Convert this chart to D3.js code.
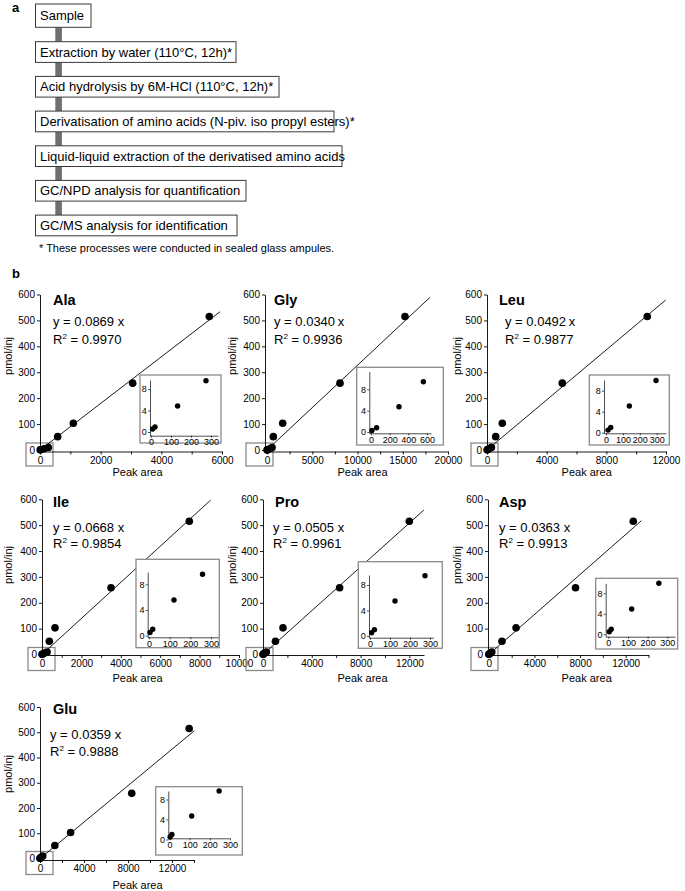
<!DOCTYPE html>
<html><head><meta charset="utf-8">
<script src="https://cdn.jsdelivr.net/npm/d3@7"></script>
<style>
body{margin:0;background:#fff}
svg{display:block}
text{font-family:"Liberation Sans",Arial,Helvetica,sans-serif;fill:#000}
</style>
</head><body>
<svg id="c" width="685" height="891"></svg>
<script>
// ---------------- DATA ----------------
const flowSteps = [
  "Sample",
  "Extraction by water (110°C, 12h)*",
  "Acid hydrolysis by 6M-HCl (110°C, 12h)*",
  "Derivatisation of amino acids (N-piv. iso propyl esters)*",
  "Liquid-liquid extraction of the derivatised amino acids",
  "GC/NPD analysis for quantification",
  "GC/MS analysis for identification"
];
const footnote = "* These processes were conducted in sealed glass ampules.";
const aminoAcids = ["Ala","Gly","Leu","Ile","Pro","Asp","Glu"];
const slopeText = ["0.0869","0.0340","0.0492","0.0668","0.0505","0.0363","0.0359"];
const r2Text = ["0.9970","0.9936","0.9877","0.9854","0.9961","0.9913","0.9888"];
// high standards (pmol/inj) and their peak areas
const pmolHigh = [51.5, 103, 258, 515];
const peakAreaHigh = [
  [583, 1099, 3055, 5582],
  [696, 1735, 8066, 15249],
  [583, 1025, 5047, 10744],
  [371, 660, 3503, 7477],
  [1021, 1639, 6282, 11997],
  [1151, 2385, 7600, 12664],
  [1348, 2783, 8340, 13562]
];
// low standards (inset)
const peakAreaLow = [
  [8, 20, 133, 275],
  [10, 60, 300, 561],
  [12, 28, 138, 296],
  [5, 18, 121, 259],
  [8, 22, 125, 275],
  [5, 15, 119, 257],
  [3, 12, 110, 246]
];
const pmolLow = [
  [0.55, 0.95, 4.84, 9.54],
  [0.3, 0.8, 4.75, 9.45],
  [0.5, 1.0, 5.09, 9.94],
  [0.5, 1.0, 5.56, 9.56],
  [0.5, 1.0, 5.49, 9.46],
  [0.5, 1.0, 4.94, 9.95],
  [0.5, 1.0, 4.7, 9.7]
];
// end point of the drawn fit line (peak area, pmol)
const fitLineEnd = [[5935,533.6],[18011,589],[11977,578.7],[8563,597],[13189,558.6],[13371,517],[14030,506]];
const yTicks = [0,100,200,300,400,500,600];
const xTickLabels = [
  [0,2000,4000,6000],
  [0,5000,10000,15000,20000],
  [0,4000,8000,12000],
  [0,2000,4000,6000,8000,10000],
  [0,4000,8000,12000],
  [0,4000,8000,12000],
  [0,4000,8000,12000]
];
const xMinorStep = [1000,2500,2000,1000,2000,2000,2000];
const xAxisMax = [6000,20000,12000,10000,13200,14000,14000];
const insetXTicks = [[0,100,200,300],[0,200,400,600],[0,100,200,300],[0,100,200,300],[0,100,200,300],[0,100,200,300],[0,100,200,300]];
const insetYTicks = [0,4,8];

// ---------------- LAYOUT ----------------
const svg = d3.select("#c");
const FONT = '"Liberation Sans",Arial,Helvetica,sans-serif';

// Part a: flow chart
const flowTops = [4, 41.7, 76.4, 111.1, 145.8, 180.4, 215.1];
const flowH = [23.3, 20.7, 20.7, 20.7, 20.7, 20.7, 20.7];
const flowRight = [91, 236, 279, 334, 342, 246, 237];
svg.append("text").attr("x", 12).attr("y", 11.5).attr("font-size", 13).attr("font-weight", "bold").text("a");
flowSteps.forEach((s, i) => {
  if (i < flowSteps.length - 1) {
    svg.append("rect").attr("x", 55.3).attr("y", flowTops[i] + flowH[i])
      .attr("width", 6.6).attr("height", flowTops[i+1] - flowTops[i] - flowH[i])
      .attr("fill", "#6f6f6f");
  }
});
flowSteps.forEach((s, i) => {
  svg.append("rect").attr("x", 35.5).attr("y", flowTops[i]).attr("width", flowRight[i] - 35.5)
    .attr("height", flowH[i]).attr("fill", "#fff").attr("stroke", "#3a3a3a").attr("stroke-width", 1);
  svg.append("text").attr("x", 40).attr("y", flowTops[i] + flowH[i] / 2 + 4.6)
    .attr("font-size", 13).text(s);
});
svg.append("text").attr("x", 39).attr("y", 252).attr("font-size", 11).text(footnote);

// Part b
svg.append("text").attr("x", 12).attr("y", 278).attr("font-size", 13).attr("font-weight", "bold").text("b");

const rows = [
  {y0:450, y600:294.5, axisY:451.5, titleY:305, eqY:326, r2Y:343.5, xlabY:476, ylabY:356},
  {y0:654.5, y600:499.3, axisY:655, titleY:506.5, eqY:531.5, r2Y:548, xlabY:682, ylabY:565},
  {y0:858.5, y600:707, axisY:860, titleY:714, eqY:738.5, r2Y:755.5, xlabY:889, ylabY:774}
];
const colXlab = [137.5, 362.5, 586.7];
const colYlab = [8, 232, 457];
const panels = [
  {row:0,col:0, yAxisX:40,  px0:40,  pxRef:222,   titleX:53,  eqX:53,  boxL:-14, sp:" "},
  {row:0,col:1, yAxisX:265, px0:267, pxRef:448,   titleX:274, eqX:274, boxL:-19, sp:"\u2009"},
  {row:0,col:2, yAxisX:487, px0:487, pxRef:666,   titleX:499, eqX:505, boxL:-16, sp:"\u2009"},
  {row:1,col:0, yAxisX:42,  px0:42,  pxRef:239,   titleX:53,  eqX:53,  boxL:-14, sp:" "},
  {row:1,col:1, yAxisX:263, px0:263, pxRef:424,   titleX:275, eqX:273, boxL:-17, sp:" "},
  {row:1,col:2, yAxisX:488, px0:489, pxRef:648.5, titleX:499, eqX:499, boxL:-17, sp:" "},
  {row:2,col:0, yAxisX:40,  px0:40,  pxRef:194,   titleX:53,  eqX:50,  boxL:-14, sp:" "}
];
const insets = [
  {box:[140,375,221,443], ax:150, ay:435.7, xr:218, yt:380, x0:151, xRefPx:211, y0:432, y8:389},
  {box:[356.7,367.3,443.3,445], ax:369.3, ay:433.3, xr:431, yt:371.7, x0:371, xRefPx:427, y0:432, y8:389.4},
  {box:[589.3,375,669.3,445], ax:604, ay:433.3, xr:665.7, yt:380, x0:606, xRefPx:656.7, y0:432.7, y8:390.7},
  {box:[136,559.3,219.3,647.7], ax:147.7, ay:637.3, xr:218.3, yt:572, x0:149, xRefPx:211, y0:635.7, y8:584.3},
  {box:[358.3,561.7,442.3,648.3], ax:369, ay:637.7, xr:433.3, yt:575, x0:370, xRefPx:430, y0:636, y8:585},
  {box:[595.7,578.3,677.7,649], ax:605.7, ay:636.7, xr:675, yt:583.3, x0:608.3, xRefPx:667.3, y0:634.3, y8:593.3},
  {box:[155.7,786.7,242.3,855], ax:168.3, ay:838.3, xr:229.3, yt:791, x0:169.5, xRefPx:230, y0:839.5, y8:799.5}
];

function styleAxis(g, fs) {
  g.selectAll("path.domain").attr("stroke", "#000").attr("stroke-width", 0.9);
  g.selectAll(".tick line").attr("stroke", "#000").attr("stroke-width", 0.9);
  g.selectAll(".tick text").attr("font-size", fs).attr("font-family", FONT).attr("fill", "#000");
}

aminoAcids.forEach((aa, i) => {
  const p = panels[i], r = rows[p.row];
  const labels = xTickLabels[i];
  const ref = labels[labels.length - 1];
  const x = d3.scaleLinear().domain([0, ref]).range([p.px0, p.pxRef]);
  x.domain([x.invert(p.yAxisX), xAxisMax[i]]).range([p.yAxisX, x(xAxisMax[i])]);
  const y = d3.scaleLinear().domain([0, 600]).range([r.y0, r.y600]);
  y.domain([y.invert(r.axisY), 600]).range([r.axisY, r.y600]);

  const g = svg.append("g");
  // origin zoom box
  g.append("rect").attr("x", p.yAxisX + p.boxL).attr("y", r.y0 - 7).attr("width", 27).attr("height", 23)
    .attr("fill", "none").attr("stroke", "#8a8a8a").attr("stroke-width", 1.3);

  // axes
  const minor = d3.range(0, xAxisMax[i] + 1, xMinorStep[i]);
  const xa = g.append("g").attr("transform", `translate(0,${r.axisY})`)
    .call(d3.axisBottom(x).tickValues(minor).tickSize(3).tickSizeOuter(0).tickPadding(2)
      .tickFormat(d => labels.includes(d) ? d : ""));
  styleAxis(xa, 10);
  const ya = g.append("g").attr("transform", `translate(${p.yAxisX},0)`)
    .call(d3.axisLeft(y).tickValues(yTicks).tickSize(3).tickSizeOuter(0).tickPadding(2));
  styleAxis(ya, 10);

  // fit line
  g.append("line").attr("x1", x(0)).attr("y1", y(0))
    .attr("x2", x(fitLineEnd[i][0])).attr("y2", y(fitLineEnd[i][1]))
    .attr("stroke", "#000").attr("stroke-width", 0.9);

  // points
  const pts = peakAreaLow[i].map((v, k) => [v, pmolLow[i][k]])
    .concat(peakAreaHigh[i].map((v, k) => [v, pmolHigh[k]]));
  g.selectAll("circle.m").data(pts).join("circle").attr("class", "m")
    .attr("cx", d => x(d[0])).attr("cy", d => y(d[1])).attr("r", 3.8).attr("fill", "#000");

  // labels
  g.append("text").attr("x", p.titleX).attr("y", r.titleY).attr("font-size", 14.5).attr("font-weight", "bold").text(aa);
  g.append("text").attr("x", p.eqX).attr("y", r.eqY).attr("font-size", 13).text("y = " + slopeText[i] + p.sp + "x");
  const rt = g.append("text").attr("x", p.eqX).attr("y", r.r2Y).attr("font-size", 13);
  rt.append("tspan").text("R");
  rt.append("tspan").attr("font-size", 8).attr("dy", -5).text("2");
  rt.append("tspan").attr("dy", 5).text(" = " + r2Text[i]);
  g.append("text").attr("x", colXlab[p.col]).attr("y", r.xlabY).attr("font-size", 11)
    .attr("text-anchor", "middle").text("Peak area");
  g.append("text").attr("transform", `translate(${colYlab[p.col]},${r.ylabY}) rotate(-90)`)
    .attr("font-size", 11).attr("text-anchor", "middle").attr("dominant-baseline", "central").text("pmol/inj");

  // inset
  const ins = insets[i];
  const xt = insetXTicks[i];
  const xi = d3.scaleLinear().domain([0, xt[xt.length - 1]]).range([ins.x0, ins.xRefPx]);
  xi.domain([xi.invert(ins.ax), xi.invert(ins.xr)]).range([ins.ax, ins.xr]);
  const yi = d3.scaleLinear().domain([0, 8]).range([ins.y0, ins.y8]);
  yi.domain([yi.invert(ins.ay), yi.invert(ins.yt)]).range([ins.ay, ins.yt]);
  const gi = g.append("g");
  gi.append("rect").attr("x", ins.box[0]).attr("y", ins.box[1])
    .attr("width", ins.box[2] - ins.box[0]).attr("height", ins.box[3] - ins.box[1])
    .attr("fill", "#fff").attr("stroke", "#8a8a8a").attr("stroke-width", 1.3);
  const xia = gi.append("g").attr("transform", `translate(0,${ins.ay})`)
    .call(d3.axisBottom(xi).tickValues(xt).tickSize(2).tickSizeOuter(0).tickPadding(1.2));
  styleAxis(xia, 9);
  xia.selectAll("path.domain,.tick line").attr("stroke-width", 0.7);
  const yia = gi.append("g").attr("transform", `translate(${ins.ax},0)`)
    .call(d3.axisLeft(yi).tickValues(insetYTicks).tickSize(2).tickSizeOuter(0).tickPadding(1.2));
  styleAxis(yia, 9);
  yia.selectAll("path.domain,.tick line").attr("stroke-width", 0.7);
  const ipts = peakAreaLow[i].map((v, k) => [v, pmolLow[i][k]]);
  gi.selectAll("circle").data(ipts).join("circle")
    .attr("cx", d => xi(d[0])).attr("cy", d => yi(d[1])).attr("r", 2.7).attr("fill", "#000");
});
</script>
</body></html>
